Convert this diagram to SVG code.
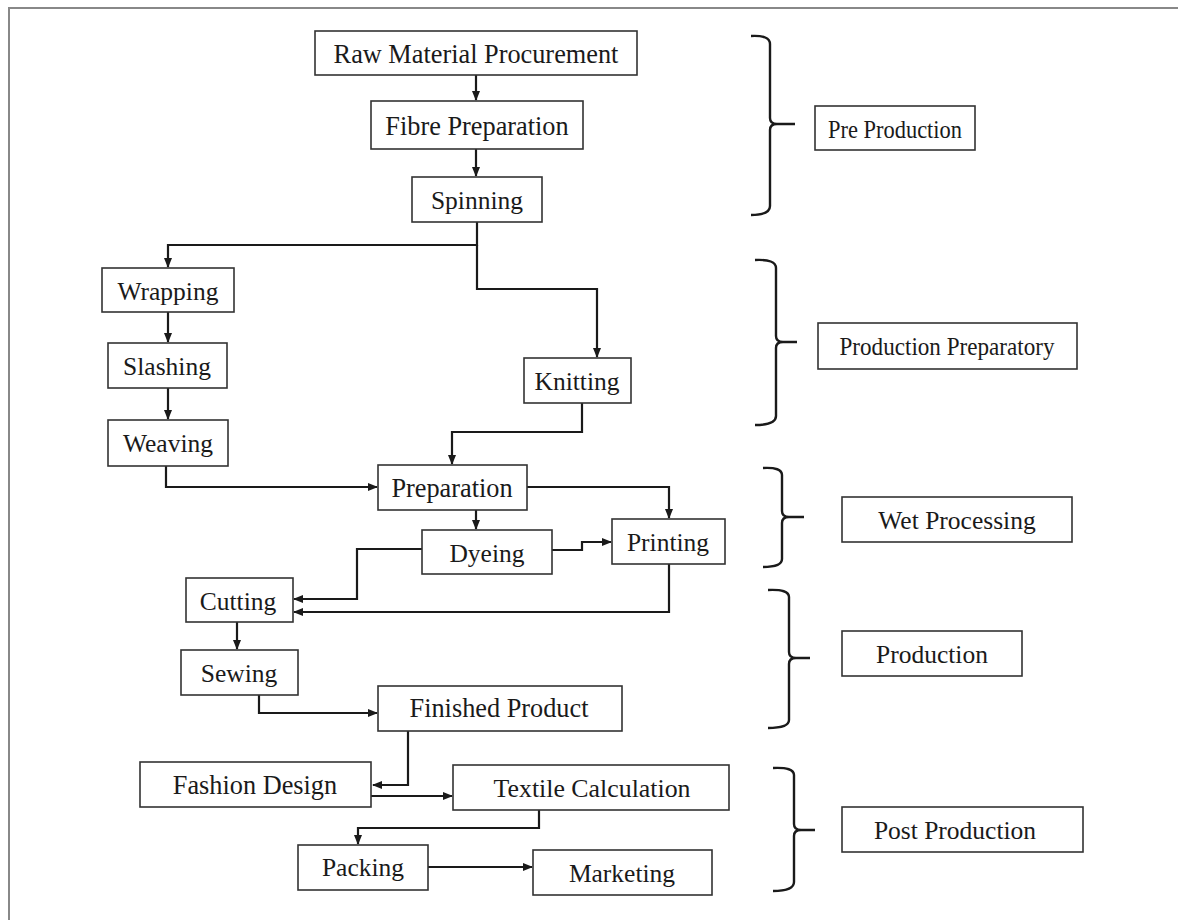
<svg xmlns="http://www.w3.org/2000/svg" width="1178" height="920" viewBox="0 0 1178 920">
<defs>
<marker id="ah" markerWidth="10" markerHeight="10" refX="9" refY="5" orient="auto" markerUnits="userSpaceOnUse">
<path d="M0,1 L10,5 L0,9 Z" fill="#1a1a1a"/>
</marker>
<style>
.box{fill:#fff;stroke:#333;stroke-width:1.6}
.t{font-family:"Liberation Serif","Times New Roman",serif;font-size:25.5px;fill:#1a1a1a;text-anchor:middle;dominant-baseline:central}
.lg{font-size:26.3px}
.c{fill:none;stroke:#1a1a1a;stroke-width:2.2;marker-end:url(#ah)}
.br{fill:none;stroke:#1a1a1a;stroke-width:2.4}
</style>
</defs>
<rect width="1178" height="920" fill="#fff"/>
<path d="M9,920 L9,8 L1178,8" fill="none" stroke="#888" stroke-width="2"/>

<g id="connectors">
<path class="c" d="M476,75 V100"/>
<path class="c" d="M476,149 V176"/>
<path class="c" d="M477,222 V245 H168 V267"/>
<path class="c" d="M477,245 V289 H597 V357"/>
<path class="c" d="M168,312 V342"/>
<path class="c" d="M168,388 V419"/>
<path class="c" d="M582,403 V432 H452 V464"/>
<path class="c" d="M166,466 V487 H377"/>
<path class="c" d="M527,487 H669 V518"/>
<path class="c" d="M476,510 V529"/>
<path class="c" d="M552,550 H582 V542 H611"/>
<path class="c" d="M422,549 H357 V599 H294"/>
<path class="c" d="M669,564 V612 H294"/>
<path class="c" d="M237,622 V649"/>
<path class="c" d="M259,695 V713 H377"/>
<path class="c" d="M408,731 V785 H373"/>
<path class="c" d="M371,796 H452"/>
<path class="c" d="M539,810 V828 H358 V844"/>
<path class="c" d="M428,867 H532"/>
</g>

<g id="n-raw"><rect class="box" x="315" y="31" width="322" height="44"/><text class="t lg" x="476" y="54">Raw Material Procurement</text></g>
<g id="n-fibre"><rect class="box" x="371" y="101" width="212" height="48"/><text class="t lg" x="477" y="126">Fibre Preparation</text></g>
<g id="n-spinning"><rect class="box" x="412" y="177" width="130" height="45"/><text class="t" x="477" y="200">Spinning</text></g>
<g id="n-wrapping"><rect class="box" x="102" y="268" width="132" height="44"/><text class="t" x="168" y="291">Wrapping</text></g>
<g id="n-slashing"><rect class="box" x="108" y="343" width="119" height="45"/><text class="t" x="167" y="366">Slashing</text></g>
<g id="n-weaving"><rect class="box" x="108" y="420" width="120" height="46"/><text class="t" x="168" y="443">Weaving</text></g>
<g id="n-knitting"><rect class="box" x="524" y="358" width="107" height="45"/><text class="t" x="577" y="381">Knitting</text></g>
<g id="n-preparation"><rect class="box" x="378" y="465" width="149" height="45"/><text class="t lg" x="452" y="488">Preparation</text></g>
<g id="n-dyeing"><rect class="box" x="422" y="530" width="130" height="44"/><text class="t" x="487" y="553">Dyeing</text></g>
<g id="n-printing"><rect class="box" x="612" y="519" width="113" height="45"/><text class="t" x="668" y="542">Printing</text></g>
<g id="n-cutting"><rect class="box" x="186" y="578" width="107" height="44"/><text class="t" x="238" y="601">Cutting</text></g>
<g id="n-sewing"><rect class="box" x="181" y="650" width="117" height="45"/><text class="t" x="239" y="673">Sewing</text></g>
<g id="n-finished"><rect class="box" x="378" y="686" width="244" height="45"/><text class="t lg" x="499" y="708">Finished Product</text></g>
<g id="n-fashion"><rect class="box" x="140" y="762" width="231" height="45"/><text class="t lg" x="255" y="785">Fashion Design</text></g>
<g id="n-textile"><rect class="box" x="453" y="765" width="276" height="45"/><text class="t" x="592" y="788" textLength="197" lengthAdjust="spacingAndGlyphs">Textile Calculation</text></g>
<g id="n-packing"><rect class="box" x="298" y="845" width="130" height="45"/><text class="t" x="363" y="867">Packing</text></g>
<g id="n-marketing"><rect class="box" x="533" y="850" width="179" height="45"/><text class="t" x="622" y="873">Marketing</text></g>

<g id="brackets">
<path class="br" d="M751,36 Q770,35 770,44 V118 Q770,124 777,124 H795 M777,124 Q770,124 770,130 V206 Q770,215 751,215"/>
<path class="br" d="M755,260 Q776,259 776,268 V336 Q776,342 783,342 H797 M783,342 Q776,342 776,348 V416 Q776,425 755,425"/>
<path class="br" d="M763,468 Q782,467 782,475 V511 Q782,517 789,517 H804 M789,517 Q782,517 782,523 V559 Q782,567 763,567"/>
<path class="br" d="M768,590 Q789,589 789,597 V652 Q789,658 796,658 H810 M796,658 Q789,658 789,664 V720 Q789,728 768,728"/>
<path class="br" d="M773,768 Q794,767 794,775 V824 Q794,830 801,830 H815 M801,830 Q794,830 794,836 V882 Q794,891 773,891"/>
</g>

<g id="n-pre"><rect class="box" x="815" y="106" width="160" height="44"/><text class="t" x="895" y="129" textLength="134" lengthAdjust="spacingAndGlyphs">Pre Production</text></g>
<g id="n-prodprep"><rect class="box" x="818" y="323" width="259" height="46"/><text class="t" x="947" y="346" textLength="215" lengthAdjust="spacingAndGlyphs">Production Preparatory</text></g>
<g id="n-wet"><rect class="box" x="842" y="497" width="230" height="45"/><text class="t" x="957" y="520">Wet Processing</text></g>
<g id="n-production"><rect class="box" x="842" y="631" width="180" height="45"/><text class="t" x="932" y="654">Production</text></g>
<g id="n-post"><rect class="box" x="842" y="807" width="241" height="45"/><text class="t" x="955" y="830">Post Production</text></g>
</svg>
